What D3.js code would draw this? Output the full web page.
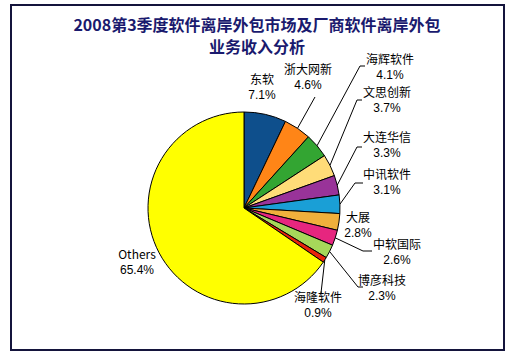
<!DOCTYPE html>
<html><head><meta charset="utf-8">
<script src="https://cdn.jsdelivr.net/npm/d3@7/dist/d3.min.js"></script>
<style>body{margin:0;background:#fff;}svg{display:block;}</style>
</head><body>
<script>
const categories = ["东软","浙大网新","海辉软件","文思创新","大连华信","中讯软件","大展","中软国际","博彦科技","海隆软件","Others"];
const values = [7.1,4.6,4.1,3.7,3.3,3.1,2.8,2.6,2.3,0.9,65.4];
const valueLabels = ["7.1%","4.6%","4.1%","3.7%","3.3%","3.1%","2.8%","2.6%","2.3%","0.9%","65.4%"];
const colors = ["#0e4f8c","#ff8517","#33a532","#ffdc78","#993399","#1a9fd6","#f0b03c","#e6267f","#a6d85a","#e8240c","#ffff00"];
const titleLines = ["2008第3季度软件离岸外包市场及厂商软件离岸外包","业务收入分析"];

// layout (label anchor positions and leader elbows)
const labelPos = [[262,80],[308,70],[390,60],[387,93],[387,138],[387,175],[358,218],[397,245],[382,281],[318,298],[137,255]];
const elbows = [null,[315,97],[360,66],[357,100],[357,147],[355,183],null,[363,251],[358,287],[321,293],null];
const ticks  = [null,null,[365,66],[362,100],[362,147],[363,183],null,[372,251],[363,287],null,null];

const W=526,H=355, cx=244, cy=208, R=96;
const svg=d3.select("body").append("svg").attr("width",W).attr("height",H);
svg.append("rect").attr("x",11).attr("y",5).attr("width",493).attr("height",345)
  .attr("fill","#fff").attr("stroke","#14143c").attr("stroke-width",2);

svg.selectAll("text.title").data(titleLines).join("text").attr("class","title")
  .attr("x",257).attr("y",(d,i)=>31+i*22).attr("text-anchor","middle")
  .attr("font-family","'Noto Sans CJK SC',sans-serif").attr("font-weight","bold")
  .attr("font-size",16).attr("fill","#1a1a6e").text(d=>d);

const pie=d3.pie().sort(null).value(d=>d)(values);
const arc=d3.arc().innerRadius(0).outerRadius(R);
const g=svg.append("g").attr("transform",`translate(${cx},${cy})`);
g.selectAll("path").data(pie).join("path").attr("d",arc)
  .attr("fill",(d,i)=>colors[i]).attr("stroke","#000").attr("stroke-width",1);

// leader lines
pie.forEach((d,i)=>{
  if(!elbows[i]) return;
  const a=(d.startAngle+d.endAngle)/2;
  const sx=cx+R*Math.sin(a), sy=cy-R*Math.cos(a);
  const pts=[[sx,sy],elbows[i]];
  if(ticks[i]) pts.push(ticks[i]);
  svg.append("path").attr("d",d3.line()(pts)).attr("fill","none").attr("stroke","#000").attr("stroke-width",1);
});

const lg=svg.append("g").attr("font-family","'Noto Sans CJK SC',sans-serif").attr("font-size",12).attr("fill","#000");
categories.forEach((c,i)=>{
  const [x,y]=labelPos[i];
  lg.append("text").attr("x",x).attr("y",y+4).attr("text-anchor","middle").text(c);
  lg.append("text").attr("x",x).attr("y",y+19).attr("text-anchor","middle").attr("font-family","Arial, 'Liberation Sans', sans-serif").text(valueLabels[i]);
});
</script>
</body></html>
